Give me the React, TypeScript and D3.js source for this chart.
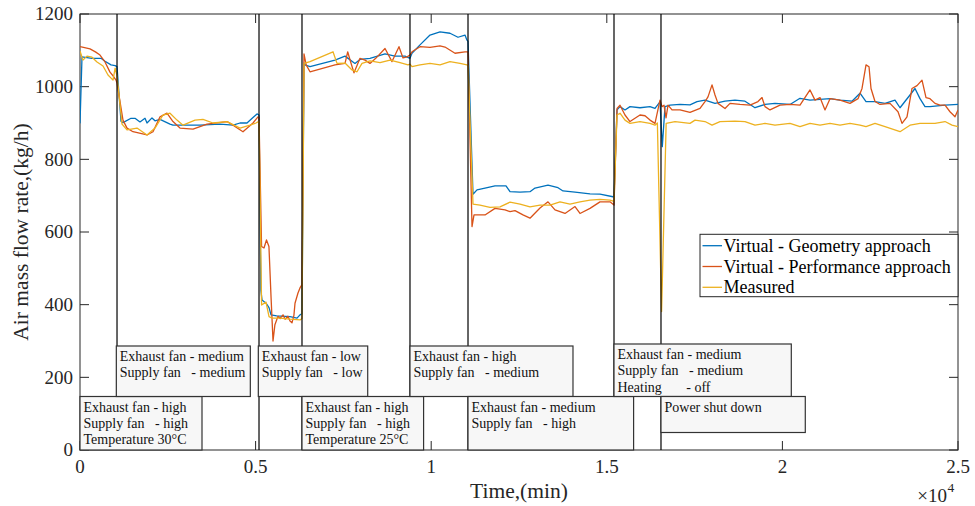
import React from "react";
import * as d3 from "d3";

// ---------- data ----------
const xTicks = [0, 5000, 10000, 15000, 20000, 25000];
const xTickLabels = ["0", "0.5", "1", "1.5", "2", "2.5"];
const yTicks = [0, 200, 400, 600, 800, 1000, 1200];
const seriesNames = [
  "Virtual - Geometry approach",
  "Virtual - Performance approach",
  "Measured",
];

const geometry: [number, number][] = [
  [0, 899], [57, 1082], [199, 1080], [342, 1078], [598, 1078], [712, 1070], [883, 1060], [1000, 1058], [1054, 1055],
  [1167, 905], [1224, 901], [1452, 913], [1566, 913], [1708, 903], [1851, 913], [1908, 900], [2050, 914], [2136, 906],
  [2278, 910], [2563, 897], [2648, 894], [3417, 894], [3986, 897], [4357, 894], [4556, 900], [4755, 900], [4926, 915],
  [5040, 925], [5097, 922],
  [5150, 440], [5182, 413], [5296, 404], [5382, 392], [5439, 372], [5600, 369], [5980, 367], [6179, 363], [6264, 372], [6321, 375],
  [6378, 1065], [6407, 1060], [6549, 1055], [7261, 1073], [7546, 1084], [7830, 1064], [7973, 1075], [8257, 1078], [8685, 1090],
  [8969, 1084], [9254, 1084], [9396, 1078],
  [9453, 1092], [9681, 1115], [9966, 1142], [10251, 1151], [10535, 1147], [10763, 1136], [10962, 1142], [11019, 1128], [11048, 1125],
  [11190, 704], [11304, 716], [11532, 721], [11817, 727], [12130, 727], [12244, 711], [12529, 710], [12813, 711], [12956, 721],
  [13326, 729], [13611, 722], [13753, 713], [14095, 710], [14522, 705], [14806, 704], [15176, 697], [15205, 697],
  [15291, 936], [15376, 945], [15518, 936], [15661, 945], [15945, 942], [16230, 945], [16372, 940], [16515, 958], [16580, 835], [16657, 945],
  [16800, 949], [17084, 951], [17369, 950], [17568, 959], [17796, 963], [18081, 954], [18366, 960], [18650, 963], [18935, 960],
  [19220, 942], [19505, 951], [19789, 954], [20217, 951], [20501, 968], [20786, 963], [21071, 965], [21356, 967], [21640, 963],
  [21982, 960], [22210, 982], [22381, 959], [22637, 959], [22922, 954], [23206, 963], [23349, 942], [23633, 977], [23776, 995],
  [23918, 967], [24060, 945], [24203, 945], [24630, 949], [25000, 951],
];

const performance: [number, number][] = [
  [0, 1110], [100, 1108], [285, 1104], [450, 1095], [569, 1087], [712, 1068], [854, 1040], [940, 1030], [1025, 1018], [1054, 1010],
  [1224, 908], [1338, 886], [1509, 876], [1908, 867], [2079, 876], [2278, 917], [2477, 927], [2648, 904], [2847, 886], [3218, 883],
  [3616, 897], [4186, 904], [4357, 894], [4641, 876], [4926, 900], [5068, 917], [5097, 915],
  [5170, 560], [5239, 556], [5310, 578], [5380, 560], [5440, 420], [5496, 300], [5550, 345], [5638, 368], [5700, 362], [5780, 372],
  [5840, 360], [5920, 368], [5980, 355], [6036, 350], [6090, 370], [6122, 404], [6207, 432], [6264, 446], [6321, 455],
  [6378, 1090], [6440, 1060], [6549, 1041], [7261, 1060], [7546, 1064], [7622, 1096], [7700, 1070], [7802, 1038], [7973, 1078],
  [8115, 1073], [8257, 1064], [8420, 1078], [8685, 1105], [8884, 1069], [9083, 1110], [9197, 1079], [9311, 1082], [9396, 1087],
  [9453, 1096], [9681, 1110], [9966, 1108], [10251, 1112], [10393, 1109], [10678, 1092], [10962, 1096], [11048, 1096],
  [11162, 615], [11219, 647], [11532, 647], [11817, 665], [12101, 661], [12244, 656], [12386, 659], [12614, 647], [12813, 638],
  [13098, 666], [13326, 683], [13525, 661], [13810, 651], [14095, 670], [14237, 651], [14522, 665], [14806, 683], [15091, 683], [15205, 674],
  [15291, 940], [15376, 949], [15518, 922], [15661, 904], [15945, 922], [16088, 920], [16230, 908], [16372, 899], [16515, 963],
  [16572, 945], [16629, 949], [16686, 914], [16743, 949], [16857, 936],
  [17084, 936], [17369, 929], [17654, 940], [17796, 959], [17882, 972], [17996, 1005], [18081, 977], [18166, 954], [18366, 940],
  [18508, 954], [18793, 951], [19078, 949], [19305, 959], [19419, 970], [19505, 945], [19647, 936], [19932, 949], [20217, 951],
  [20501, 949], [20786, 991], [20928, 963], [21071, 970], [21213, 936], [21356, 967], [21640, 963], [21925, 954], [22153, 967],
  [22267, 995], [22381, 1060], [22466, 1055], [22523, 995], [22637, 959], [22779, 951], [23064, 954], [23292, 931], [23406, 899],
  [23548, 917], [23690, 995], [23833, 1003], [23975, 1018], [24089, 970], [24203, 967], [24345, 954], [24488, 949], [24630, 949],
  [24772, 931], [24915, 917], [25000, 936],
];

const measured: [number, number][] = [
  [0, 1098], [85, 1073], [199, 1084], [342, 1081], [484, 1068], [655, 1057], [797, 1032], [940, 1018], [1000, 1051], [1054, 1030],
  [1196, 897], [1338, 881], [1623, 886], [1908, 867], [2136, 886], [2363, 922], [2563, 927], [2762, 908], [2933, 894], [3275, 908],
  [3502, 910], [3787, 900], [4186, 904], [4556, 886], [4841, 894], [5011, 900], [5097, 905],
  [5170, 399], [5296, 407], [5382, 367], [5467, 363], [5695, 363], [5980, 360], [6264, 358], [6321, 362],
  [6380, 1064], [6549, 1069], [7204, 1096], [7318, 1064], [7546, 1065], [7745, 1046], [7887, 1041], [8030, 1064], [8257, 1071],
  [8542, 1066], [8827, 1073], [9112, 1066], [9339, 1060], [9396, 1062],
  [9453, 1055], [9681, 1060], [9966, 1064], [10251, 1060], [10535, 1069], [10820, 1064], [11019, 1060], [11048, 1058],
  [11190, 677], [11390, 674], [11674, 668], [11959, 669], [12244, 682], [12529, 677], [12813, 669], [13098, 674], [13383, 674],
  [13668, 683], [13952, 677], [14237, 683], [14522, 688], [14806, 690], [15091, 688], [15205, 684],
  [15291, 922], [15376, 927], [15518, 908], [15661, 899], [15945, 904], [16230, 899], [16372, 894], [16440, 900], [16560, 381], [16690, 899],
  [16942, 904], [17369, 899], [17512, 908], [17796, 904], [17996, 894], [18223, 904], [18650, 905], [18935, 904], [19220, 894],
  [19505, 899], [19789, 894], [20217, 899], [20501, 890], [20786, 899], [21071, 894], [21356, 899], [21640, 894], [21925, 899],
  [22210, 894], [22381, 890], [22637, 899], [22922, 890], [23349, 876], [23633, 894], [23918, 899], [24345, 899], [24630, 904],
  [24829, 894], [25000, 890],
];

const eventTimes = [1054, 5097, 6321, 9396, 11048, 15205, 16543];

const annotationTimes = [0, 1054, 5097, 6321, 9396, 11048, 15205, 16543];
const annotationLines: string[][] = [
  ["Exhaust fan - high", "Supply fan   - high", "Temperature 30°C"],
  ["Exhaust fan - medium", "Supply fan   - medium"],
  ["Exhaust fan - low", "Supply fan   - low"],
  ["Exhaust fan - high", "Supply fan   - high", "Temperature 25°C"],
  ["Exhaust fan - high", "Supply fan   - medium"],
  ["Exhaust fan - medium", "Supply fan   - high"],
  ["Exhaust fan - medium", "Supply fan   - medium", "Heating       - off"],
  ["Power shut down"],
];

// ---------- layout / style ----------
const W = 975;
const H = 506;
const L = 80, R = 958, T = 14, B = 450;
const colors = ["#0072BD", "#D95319", "#EDB120"];
const axisColor = "#262626";
const font = "'Liberation Serif', 'Times New Roman', serif";
const boxLayout = [
  { top: 396.5, h: 53.5, w: 122, dx: 0 },
  { top: 346, h: 50.5, w: 134, dx: -0.7 },
  { top: 346, h: 50.5, w: 109.4, dx: -0.7 },
  { top: 396.5, h: 53.5, w: 121.6, dx: 0 },
  { top: 346, h: 50.5, w: 163, dx: 0 },
  { top: 396.5, h: 53.5, w: 165.6, dx: 0 },
  { top: 344, h: 52.5, w: 177.3, dx: 0 },
  { top: 396.5, h: 36, w: 144.3, dx: 0 },
];

export default function App() {
  const x = d3.scaleLinear().domain([0, 25000]).range([L, R]);
  const y = d3.scaleLinear().domain([0, 1200]).range([B, T]);
  const line = d3
    .line<[number, number]>()
    .x((d) => x(d[0]))
    .y((d) => y(d[1]));
  const series = [geometry, performance, measured];

  return (
    <svg
      width={W}
      height={H}
      style={{ position: "absolute", left: 0, top: 0, background: "#fff" }}
      fontFamily={font}
    >
      <rect x={0} y={0} width={W} height={H} fill="#fff" />
      <defs>
        <clipPath id="plot">
          <rect x={L} y={T} width={R - L} height={B - T} />
        </clipPath>
      </defs>

      {/* axis box */}
      <rect x={L} y={T} width={R - L} height={B - T} fill="none" stroke={axisColor} strokeWidth={1} />
      {/* ticks */}
      {xTicks.map((t, i) => (
        <g key={"xt" + i}>
          <line x1={x(t)} x2={x(t)} y1={B} y2={B - 9} stroke={axisColor} />
          <line x1={x(t)} x2={x(t)} y1={T} y2={T + 9} stroke={axisColor} />
          <text x={x(t)} y={473} textAnchor="middle" fontSize={19} fill={axisColor}>
            {xTickLabels[i]}
          </text>
        </g>
      ))}
      {yTicks.map((v, i) => (
        <g key={"yt" + i}>
          <line x1={L} x2={L + 9} y1={y(v)} y2={y(v)} stroke={axisColor} />
          <line x1={R} x2={R - 9} y1={y(v)} y2={y(v)} stroke={axisColor} />
          <text x={73} y={y(v)} dy="0.33em" textAnchor="end" fontSize={19} fill={axisColor}>
            {v}
          </text>
        </g>
      ))}

      {/* data */}
      <g clipPath="url(#plot)">
        {series.map((s, i) => (
          <path key={"s" + i} d={line(s) || ""} fill="none" stroke={colors[i]} strokeWidth={1.3} strokeLinejoin="round" />
        ))}
      </g>

      {/* event lines */}
      {eventTimes.map((t, i) => (
        <line key={"ev" + i} x1={x(t)} x2={x(t)} y1={T} y2={B} stroke="#000" strokeWidth={1.2} />
      ))}

      {/* annotation boxes */}
      {annotationTimes.map((t, i) => {
        const b = boxLayout[i];
        const bx = x(t) + b.dx;
        return (
          <g key={"an" + i}>
            <rect x={bx} y={b.top} width={b.w} height={b.h} fill="#f7f7f7" stroke="#333" strokeWidth={1.2} />
            {annotationLines[i].map((ln, j) => (
              <text
                key={j}
                x={bx + 3.5}
                y={b.top + 15 + j * 16.3}
                fontSize={14}
                fill="#111"
                xmlSpace="preserve"
                style={{ whiteSpace: "pre" }}
              >
                {ln}
              </text>
            ))}
          </g>
        );
      })}

      {/* legend */}
      <g>
        <rect x={700} y={234.3} width={258} height={62.4} fill="#fff" stroke={axisColor} strokeWidth={1} />
        {seriesNames.map((n, i) => (
          <g key={"lg" + i}>
            <line x1={702.5} x2={722} y1={245.7 + i * 20.8} y2={245.7 + i * 20.8} stroke={colors[i]} strokeWidth={1.3} />
            <text x={723.5} y={251.7 + i * 20.8} fontSize={18} fill="#000">
              {n}
            </text>
          </g>
        ))}
      </g>

      {/* axis labels */}
      <text x={519} y={498} textAnchor="middle" fontSize={21.5} fill={axisColor}>
        Time,(min)
      </text>
      <text
        transform={`translate(27.5,232) rotate(-90)`}
        textAnchor="middle"
        fontSize={21.5}
        fill={axisColor}
      >
        Air mass flow rate,(kg/h)
      </text>
      <text x={947} y={501.5} textAnchor="end" fontSize={19} fill={axisColor}>
        ×10
      </text>
      <text x={947.5} y={492} fontSize={13.5} fill={axisColor}>
        4
      </text>
    </svg>
  );
}
